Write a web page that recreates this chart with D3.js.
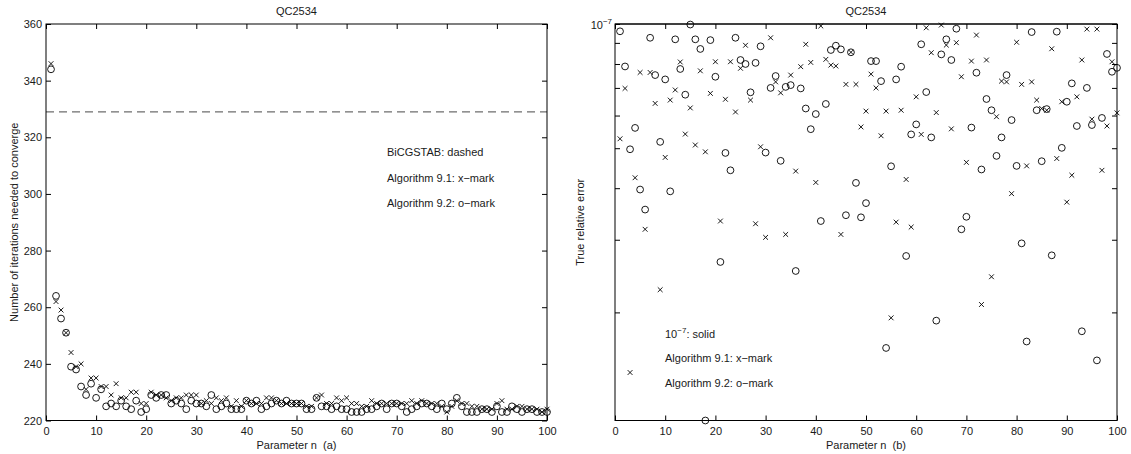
<!DOCTYPE html>
<html>
<head>
<meta charset="utf-8">
<script src="https://cdn.jsdelivr.net/npm/d3@7"></script>
<style>
  html, body { margin: 0; padding: 0; background: #fff; }
  svg { display: block; font-family: "Liberation Sans", Arial, Helvetica, sans-serif; }
  .tick text { fill: #1a1a1a; font-size: 11px; }
  .lbl { fill: #1a1a1a; font-size: 11px; }
</style>
</head>
<body>
<svg id="chart" width="1131" height="454"></svg>
<script>
// Parameter n
const nValues = d3.range(1, 101);

// (a) iterations needed to converge
const bicgstabIters = 329;
const itersAlg91 = [
  346, 262, 259, 251, 244, 239, 240, 231, 235, 235,
  232, 232, 229, 233, 228, 228, 230, 230, 226, 226,
  230, 229, 229, 228, 227, 228, 228, 229, 229, 229,
  226, 227, 226, 228, 227, 228, 225, 227, 225, 227,
  226, 226, 226, 228, 228, 227, 226, 226, 226, 226,
  226, 225, 225, 228, 229, 226, 226, 228, 227, 228,
  226, 226, 225, 225, 227, 226, 226, 226, 226, 226,
  226, 226, 227, 226, 227, 226, 226, 226, 225, 223,
  225, 227, 226, 226, 225, 225, 224, 224, 224, 226,
  227, 224, 224, 225, 225, 224, 224, 224, 223, 224
];
const itersAlg92 = [
  344, 264, 256, 251, 239, 238, 232, 229, 233, 228,
  231, 225, 226, 225, 227, 225, 224, 227, 223, 224,
  229, 228, 229, 229, 226, 227, 226, 224, 227, 226,
  226, 225, 229, 224, 225, 226, 224, 224, 224, 227,
  226, 227, 224, 225, 226, 227, 226, 227, 226, 226,
  226, 224, 224, 228, 225, 225, 224, 225, 224, 224,
  223, 223, 223, 224, 224, 225, 226, 224, 226, 226,
  225, 223, 224, 225, 226, 226, 225, 224, 226, 224,
  226, 228, 225, 223, 223, 223, 224, 224, 223, 225,
  223, 223, 225, 224, 223, 224, 224, 223, 223, 223
];

// (b) true relative error
const toleranceLevel = 1e-7;
const errAlg91 = [
  5.27e-8, 6.98e-8, 1.43e-8, 4.24e-8, 7.63e-8, 3.18e-8, 7.63e-8, 6.42e-8, 2.27e-8, 4.75e-8,
  6.54e-8, 6.92e-8, 8.09e-8, 5.41e-8, 6.26e-8, 5.09e-8, 7.70e-8, 4.90e-8, 6.79e-8, 8.10e-8,
  3.33e-8, 6.57e-8, 8.10e-8, 6.12e-8, 7.81e-8, 8.88e-8, 6.54e-8, 3.28e-8, 5.04e-8, 3.04e-8,
  9.26e-8, 7.24e-8, 6.81e-8, 3.09e-8, 7.52e-8, 4.40e-8, 7.88e-8, 8.93e-8, 8.07e-8, 4.13e-8,
  9.89e-8, 8.21e-8, 7.95e-8, 7.91e-8, 3.09e-8, 7.14e-8, 8.54e-8, 7.14e-8, 5.63e-8, 6.15e-8,
  7.56e-8, 7.00e-8, 5.36e-8, 6.15e-8, 1.94e-8, 3.31e-8, 6.18e-8, 4.20e-8, 3.22e-8, 6.66e-8,
  5.40e-8, 9.79e-8, 8.52e-8, 6.10e-8, 9.94e-8, 8.89e-8, 5.57e-8, 9.01e-8, 7.45e-8, 4.62e-8,
  8.13e-8, 9.40e-8, 2.09e-8, 8.18e-8, 2.44e-8, 5.96e-8, 7.27e-8, 7.24e-8, 3.88e-8, 9.03e-8,
  7.14e-8, 4.53e-8, 7.24e-8, 6.54e-8, 6.24e-8, 6.18e-8, 8.71e-8, 4.72e-8, 6.48e-8, 3.70e-8,
  4.30e-8, 6.66e-8, 8.18e-8, 9.72e-8, 5.88e-8, 9.72e-8, 4.42e-8, 5.66e-8, 8.10e-8, 6.09e-8
];
const errAlg92 = [
  9.60e-8, 7.89e-8, 4.97e-8, 5.60e-8, 3.97e-8, 3.55e-8, 9.26e-8, 7.52e-8, 5.18e-8, 7.34e-8,
  3.93e-8, 9.18e-8, 7.78e-8, 6.74e-8, 9.97e-8, 9.18e-8, 8.70e-8, 1.094e-8, 9.14e-8, 7.45e-8,
  2.65e-8, 4.87e-8, 4.42e-8, 9.26e-8, 8.18e-8, 8.00e-8, 6.83e-8, 8.05e-8, 8.83e-8, 4.88e-8,
  7.00e-8, 7.48e-8, 4.66e-8, 7.04e-8, 7.11e-8, 2.52e-8, 6.98e-8, 6.24e-8, 5.56e-8, 6.05e-8,
  3.33e-8, 6.40e-8, 8.65e-8, 8.86e-8, 8.68e-8, 3.44e-8, 8.54e-8, 4.12e-8, 3.40e-8, 3.68e-8,
  8.13e-8, 8.13e-8, 7.27e-8, 1.64e-8, 4.52e-8, 7.34e-8, 7.88e-8, 2.74e-8, 5.40e-8, 5.71e-8,
  8.93e-8, 6.84e-8, 5.31e-8, 1.91e-8, 8.44e-8, 9.18e-8, 8.18e-8, 9.74e-8, 3.18e-8, 3.41e-8,
  5.61e-8, 7.62e-8, 4.44e-8, 6.58e-8, 6.18e-8, 4.79e-8, 5.31e-8, 7.52e-8, 5.85e-8, 4.53e-8,
  2.94e-8, 1.70e-8, 9.56e-8, 6.18e-8, 4.65e-8, 6.22e-8, 2.75e-8, 9.58e-8, 5.01e-8, 6.48e-8,
  7.18e-8, 5.66e-8, 1.80e-8, 7.00e-8, 5.69e-8, 1.53e-8, 5.92e-8, 8.46e-8, 7.66e-8, 7.83e-8
];

// Axis ticks
const xTicks = d3.range(0, 101, 10);
const itersTicks = d3.range(220, 361, 20);
const errTicks = [2e-8, 3e-8, 4e-8, 5e-8, 6e-8, 7e-8, 8e-8, 9e-8, 1e-7];

const svg = d3.select("#chart");
const TICK = 5;

function frame(g, x0, x1, y0, y1) {
  g.append("rect")
    .attr("x", x0).attr("y", y0)
    .attr("width", x1 - x0).attr("height", y1 - y0)
    .attr("fill", "none").attr("stroke", "#000").attr("stroke-width", 1);
}

function xAxes(g, x, yTop, yBottom) {
  g.append("g").attr("transform", `translate(0,${yBottom})`)
    .call(d3.axisBottom(x).tickValues(xTicks).tickSizeInner(-TICK).tickSizeOuter(0).tickPadding(6.5))
    .call(a => a.select(".domain").remove())
    .call(a => a.selectAll("line").attr("stroke", "#000"));
  g.append("g").attr("transform", `translate(0,${yTop})`)
    .call(d3.axisTop(x).tickValues(xTicks).tickSizeInner(-TICK).tickSizeOuter(0).tickFormat(""))
    .call(a => a.select(".domain").remove())
    .call(a => a.selectAll("line").attr("stroke", "#000"));
}

function yAxes(g, y, xLeft, xRight, ticks, fmt) {
  g.append("g").attr("transform", `translate(${xLeft},0)`)
    .call(d3.axisLeft(y).tickValues(ticks).tickSizeInner(-TICK).tickSizeOuter(0).tickPadding(4).tickFormat(fmt))
    .call(a => a.select(".domain").remove())
    .call(a => a.selectAll("line").attr("stroke", "#000"));
  g.append("g").attr("transform", `translate(${xRight},0)`)
    .call(d3.axisRight(y).tickValues(ticks).tickSizeInner(-TICK).tickSizeOuter(0).tickFormat(""))
    .call(a => a.select(".domain").remove())
    .call(a => a.selectAll("line").attr("stroke", "#000"));
}

function xMarks(g, data, x, y) {
  const s = 2.4;
  g.append("g").selectAll("path").data(data).join("path")
    .attr("d", d => {
      const cx = x(d.n), cy = y(d.v);
      return `M${cx - s},${cy - s}L${cx + s},${cy + s}M${cx - s},${cy + s}L${cx + s},${cy - s}`;
    })
    .attr("stroke", "#000").attr("stroke-width", 0.9).attr("fill", "none");
}

function oMarks(g, data, x, y) {
  g.append("g").selectAll("circle").data(data).join("circle")
    .attr("cx", d => x(d.n)).attr("cy", d => y(d.v)).attr("r", 3.4)
    .attr("stroke", "#000").attr("stroke-width", 0.9).attr("fill", "none");
}

const pair = arr => nValues.map((n, i) => ({ n, v: arr[i] }));

// ---------- (a) iterations ----------
{
  const L = 46, R = 547, T = 24, B = 420.5;
  const x = d3.scaleLinear().domain([0, 100]).range([L, R]);
  const y = d3.scaleLinear().domain([220, 360]).range([B, T]);
  const g = svg.append("g");

  g.append("line")
    .attr("x1", x(0)).attr("x2", x(100))
    .attr("y1", y(bicgstabIters)).attr("y2", y(bicgstabIters))
    .attr("stroke", "#6e6e6e").attr("stroke-width", 1.2).attr("stroke-dasharray", "8,5");

  xMarks(g, pair(itersAlg91), x, y);
  oMarks(g, pair(itersAlg92), x, y);

  xAxes(g, x, T, B);
  yAxes(g, y, L, R, itersTicks, d3.format("d"));
  frame(g, L, R, T, B);

  g.append("text").attr("class", "lbl").attr("x", (L + R) / 2).attr("y", 15)
    .attr("text-anchor", "middle").text("QC2534");
  g.append("text").attr("class", "lbl").attr("x", (L + R) / 2).attr("y", 449)
    .attr("text-anchor", "middle").attr("xml:space", "preserve").text("Parameter n  (a)");
  g.append("text").attr("class", "lbl")
    .attr("transform", `translate(17.5,${(T + B) / 2}) rotate(-90)`)
    .attr("text-anchor", "middle").text("Number of iterations needed to converge");

  const legend = ["BiCGSTAB: dashed", "Algorithm 9.1: x\u2212mark", "Algorithm 9.2: o\u2212mark"];
  g.append("g").selectAll("text").data(legend).join("text")
    .attr("class", "lbl").attr("x", 387).attr("y", (d, i) => 156 + i * 25.5).text(d => d);
}

// ---------- (b) true relative error ----------
{
  const L = 615, R = 1117, T = 24, B = 420.5;
  const x = d3.scaleLinear().domain([0, 100]).range([L, R]);
  const y = d3.scaleLog().domain([1.094e-8, 1e-7]).range([B, T]);
  const g = svg.append("g");

  g.append("line")
    .attr("x1", x(0)).attr("x2", x(100))
    .attr("y1", y(toleranceLevel)).attr("y2", y(toleranceLevel))
    .attr("stroke", "#000").attr("stroke-width", 1);

  xMarks(g, pair(errAlg91), x, y);
  oMarks(g, pair(errAlg92), x, y);

  xAxes(g, x, T, B);
  yAxes(g, y, L, R, errTicks, () => "");
  frame(g, L, R, T, B);

  // 10^-7 label at the top of the log axis
  const topLbl = g.append("text").attr("class", "lbl")
    .attr("x", L - 3).attr("y", y(1e-7) + 4.5).attr("text-anchor", "end");
  topLbl.append("tspan").text("10");
  topLbl.append("tspan").attr("dy", -5).attr("font-size", "8px").text("\u22127");

  g.append("text").attr("class", "lbl").attr("x", (L + R) / 2).attr("y", 15)
    .attr("text-anchor", "middle").text("QC2534");
  g.append("text").attr("class", "lbl").attr("x", (L + R) / 2).attr("y", 449)
    .attr("text-anchor", "middle").attr("xml:space", "preserve").text("Parameter n  (b)");
  g.append("text").attr("class", "lbl")
    .attr("transform", `translate(584,${(T + B) / 2}) rotate(-90)`)
    .attr("text-anchor", "middle").text("True relative error");

  const lg = g.append("g");
  const first = lg.append("text").attr("class", "lbl").attr("x", 665).attr("y", 338);
  first.append("tspan").text("10");
  first.append("tspan").attr("dy", -5).attr("font-size", "8px").text("\u22127");
  first.append("tspan").attr("dy", 5).text(": solid");
  const rest = ["Algorithm 9.1: x\u2212mark", "Algorithm 9.2: o\u2212mark"];
  lg.selectAll("text.rest").data(rest).join("text")
    .attr("class", "lbl rest").attr("x", 665).attr("y", (d, i) => 362 + i * 24.5).text(d => d);
}
</script>
</body>
</html>
